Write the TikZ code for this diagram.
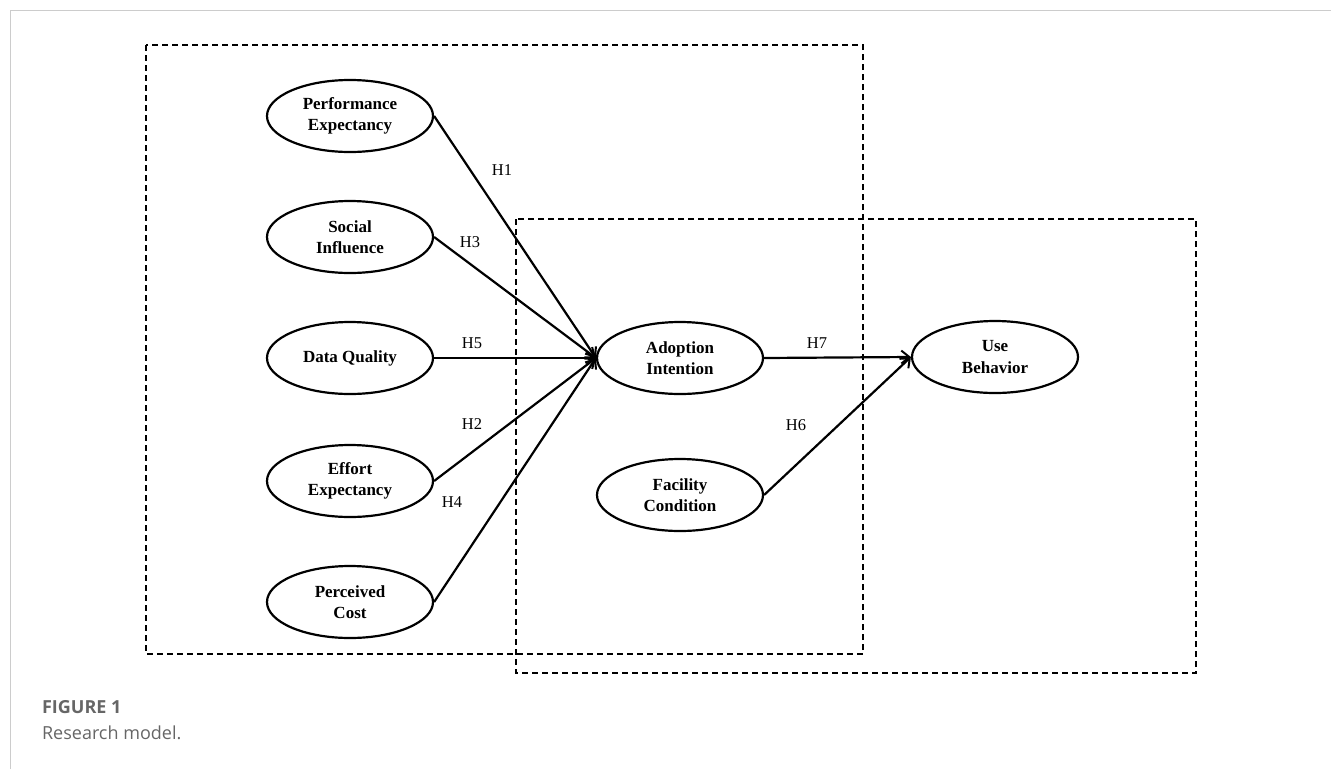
\documentclass[tikz,border=0pt]{standalone}
\usepackage{fontspec}
\setmainfont{Liberation Serif}
\newfontfamily\capfont{Open Sans}
\usetikzlibrary{arrows.meta,shapes.geometric}

\begin{document}
\begin{tikzpicture}[x=1pt,y=-1pt,
	every node/.style={ellipse,draw,line width=2.2pt,minimum width=166pt,minimum height=72pt,inner sep=0pt,align=center,font=\fontsize{17}{21.5}\selectfont\bfseries},
	hlab/.style={draw=none,ellipse=false,rectangle,minimum size=0pt,inner sep=1pt,font=\fontsize{16.5}{19}\selectfont},
	link/.style={line width=2.2pt,-{Straight Barb[length=8pt,width=13pt,line width=2pt]}},
	box/.style={line width=1.5pt,dash pattern=on 6pt off 4pt}]
	\useasboundingbox (0,0) rectangle (1331,769);
	\draw[black!20,line width=1pt] (10,769) -- (10,10) -- (1331,10);
	
	\draw[box] (146,45) rectangle (863,654);
	\draw[box] (516,219) rectangle (1196,673);
	
	\node (pe) at (350,116) {Performance\\Expectancy};
	\node (si) at (350,237) {Social\\Influence};
	\node (dq) at (350,358) {Data Quality};
	\node (ee) at (350,481) {Effort\\Expectancy};
	\node (pc) at (350,602) {Perceived\\Cost};
	\node (ai) at (680,358) {Adoption\\Intention};
	\node (fc) at (680,495) {Facility\\Condition};
	\node (ub) at (995,357) {Use\\Behavior};
	
	\draw[link] (pe.east) -- (ai.west);
	\draw[link] (si.east) -- (ai.west);
	\draw[link] (dq.east) -- (ai.west);
	\draw[link] (ee.east) -- (ai.west);
	\draw[link] (pc.east) -- (ai.west);
	\draw[link] (ai.east) -- (ub.west);
	\draw[link] (fc.east) -- (ub.west);
	
	\node[hlab] (h1) at (502,170) {H1};
	\node[hlab] (h3) at (470,242) {H3};
	\node[hlab] (h5) at (472,343) {H5};
	\node[hlab] (h2) at (472,424) {H2};
	\node[hlab] (h4) at (452,502) {H4};
	\node[hlab] (h7) at (817,343) {H7};
	\node[hlab] (h6) at (796,425) {H6};
	
	\node[hlab,anchor=west,text=black!60,font=\capfont\fontsize{18}{20}\selectfont\bfseries] (fig) at (40,707) {FIGURE 1};
	\node[hlab,anchor=west,text=black!60,font=\capfont\fontsize{18}{20}\selectfont] (cap) at (40,733) {Research model.};
	
	\end{tikzpicture}
\end{document}
